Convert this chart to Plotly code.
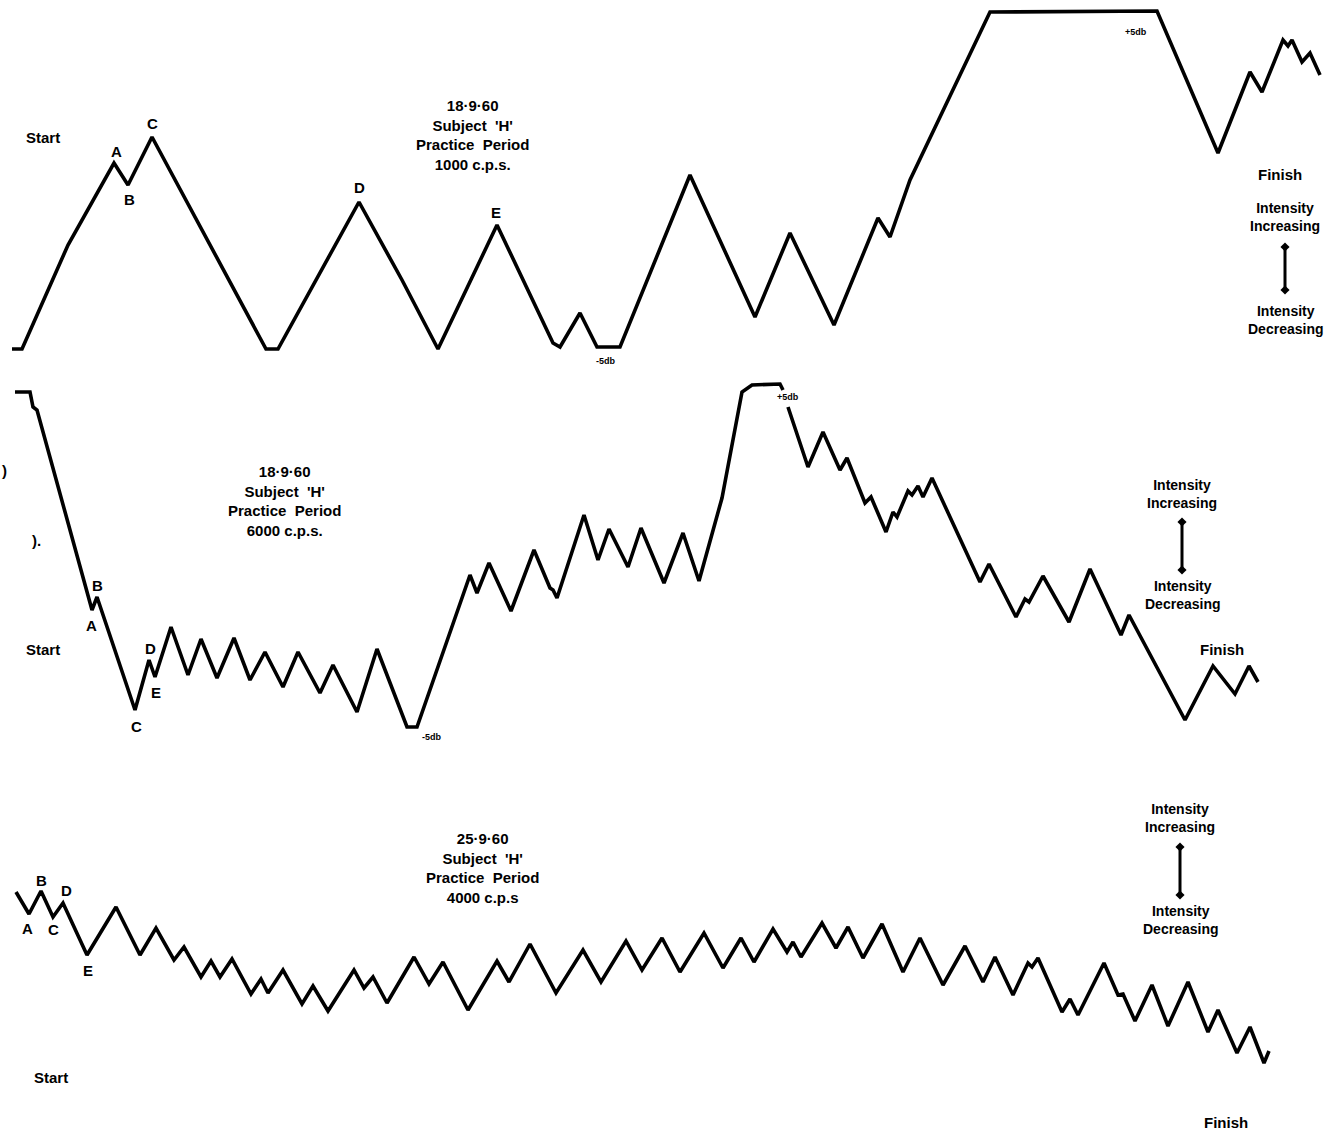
import plotly.graph_objects as go

# Tracing 1: 18.9.60, subject 'H', practice period, 1000 c.p.s.
t_1000 = [12, 22, 68, 114, 128, 152, 266, 278, 359, 402, 438, 497, 553, 560, 580,
          597, 620, 690, 755, 790, 834, 878, 890, 910, 990, 1157, 1218, 1250, 1262,
          1283, 1288, 1292, 1302, 1310, 1320]
lvl_1000 = [349, 349, 245, 163, 185, 137, 349, 349, 202, 280, 349, 225, 343, 347, 313,
            347, 347, 175, 317, 233, 325, 218, 237, 180, 12, 11, 153, 72, 92,
            40, 46, 40, 62, 53, 75]

# Tracing 2: 18.9.60, subject 'H', practice period, 6000 c.p.s. (two pen segments)
t_6000a = [15, 30, 33, 37, 92, 97, 135, 149, 155, 171, 188, 201, 217, 234, 250, 265,
           283, 298, 320, 333, 357, 377, 407, 417, 470, 477, 489, 511, 534, 550, 553,
           557, 584, 598, 609, 622, 628, 641, 664, 683, 699, 722, 742, 752, 780, 783]
lvl_6000a = [392, 392, 407, 410, 610, 597, 710, 660, 677, 627, 675, 639, 678, 638, 680,
             652, 687, 652, 693, 665, 712, 649, 727, 727, 575, 593, 563, 611, 550, 588,
             590, 598, 515, 560, 529, 556, 567, 528, 583, 533, 581, 498, 392, 385, 384,
             390]
t_6000b = [788, 808, 823, 840, 847, 865, 871, 886, 893, 897, 908, 912, 918, 923, 932,
           980, 989, 1016, 1025, 1029, 1043, 1069, 1090, 1121, 1129, 1185, 1213, 1227,
           1235, 1249, 1258]
lvl_6000b = [407, 467, 432, 470, 458, 503, 497, 532, 512, 517, 491, 495, 486, 497, 478,
             582, 564, 617, 599, 602, 576, 622, 569, 635, 615, 720, 666, 683, 694, 666,
             682]

# Tracing 3: 25.9.60, subject 'H', practice period, 4000 c.p.s.
t_4000 = [16, 29, 41, 53, 63, 87, 116, 140, 156, 174, 184, 201, 211, 220, 232, 251,
          261, 268, 283, 302, 313, 328, 354, 364, 373, 387, 414, 429, 443, 468, 497,
          509, 530, 556, 583, 601, 626, 642, 662, 680, 704, 723, 741, 754, 773, 787,
          793, 801, 822, 836, 848, 863, 882, 903, 920, 943, 965, 983, 995, 1013, 1028,
          1032, 1038, 1062, 1070, 1078, 1104, 1118, 1123, 1135, 1152, 1168, 1188, 1208,
          1218, 1237, 1250, 1264, 1269]
lvl_4000 = [892, 914, 891, 917, 903, 955, 907, 955, 928, 960, 947, 977, 961, 977, 959,
            994, 979, 993, 970, 1004, 986, 1011, 970, 988, 977, 1003, 957, 984, 962,
            1010, 961, 982, 944, 993, 950, 982, 941, 970, 938, 972, 933, 968, 938, 962,
            929, 952, 942, 957, 923, 948, 927, 958, 924, 972, 938, 985, 946, 982, 957,
            995, 963, 967, 958, 1012, 999, 1015, 963, 995, 994, 1021, 985, 1026, 982,
            1032, 1010, 1053, 1027, 1063, 1051]

# Caption blocks and labels: (text, x, y)
captions = [
    ("18·9·60<br>Subject  'H'<br>Practice  Period<br>1000 c.p.s.", 472, 135),
    ("18·9·60<br>Subject  'H'<br>Practice  Period<br>6000 c.p.s.", 284, 501),
    ("25·9·60<br>Subject  'H'<br>Practice  Period<br>4000 c.p.s", 482, 868),
]
labels = [
    ("Start", 43, 137), ("A", 116, 151), ("B", 129, 199), ("C", 152, 123),
    ("D", 359, 187), ("E", 496, 212), ("-5db", 606, 361), ("+5db", 1136, 32),
    ("Finish", 1280, 174),
    ("Start", 43, 649), ("A", 91, 625), ("B", 97, 585), ("C", 136, 726),
    ("D", 150, 648), ("E", 156, 692), ("-5db", 432, 737), ("+5db", 788, 397),
    ("Finish", 1222, 649),
    ("A", 27, 928), ("B", 41, 880), ("C", 53, 929), ("D", 66, 890), ("E", 88, 970),
    ("Start", 51, 1077), ("Finish", 1226, 1122),
    (")", 4, 470), (").", 36, 540),
]
# Intensity key: (x, top text y, arrow top, arrow bottom, bottom text y)
keys = [(1285, 217, 247, 290, 320), (1182, 494, 522, 570, 595), (1180, 818, 847, 895, 920)]

fig = go.Figure()
line_style = dict(color="#000000", width=3.6)
for t, lvl in [(t_1000, lvl_1000), (t_6000a, lvl_6000a), (t_6000b, lvl_6000b),
               (t_4000, lvl_4000)]:
    fig.add_trace(go.Scatter(x=t, y=lvl, mode="lines", line=line_style,
                             hoverinfo="skip", showlegend=False))

font = dict(family="Liberation Sans, Arial, sans-serif", size=15, color="#000000",
            weight="bold")
small = dict(font, size=9)
for text, x, y in captions:
    fig.add_annotation(x=x, y=y, text=text, showarrow=False, font=font,
                       align="center")
for text, x, y in labels:
    fig.add_annotation(x=x, y=y, text=text, showarrow=False,
                       font=small if "db" in text else font)
for x, ty, a0, a1, by in keys:
    fig.add_annotation(x=x, y=ty, text="Intensity<br>Increasing", showarrow=False,
                       font=dict(font, size=14))
    fig.add_annotation(x=x, y=by, text="Intensity<br>Decreasing", showarrow=False,
                       font=dict(font, size=14))
    fig.add_trace(go.Scatter(x=[x, x], y=[a0, a1], mode="lines+markers",
                             line=dict(color="#000000", width=3),
                             marker=dict(symbol="diamond", size=7, color="#000000"),
                             hoverinfo="skip", showlegend=False))

fig.update_layout(
    width=1334, height=1130, margin=dict(l=0, r=0, t=0, b=0),
    paper_bgcolor="#ffffff", plot_bgcolor="#ffffff",
    xaxis=dict(range=[0, 1334], visible=False, fixedrange=True),
    yaxis=dict(range=[1130, 0], visible=False, fixedrange=True),
)
fig.write_html("out.html")
